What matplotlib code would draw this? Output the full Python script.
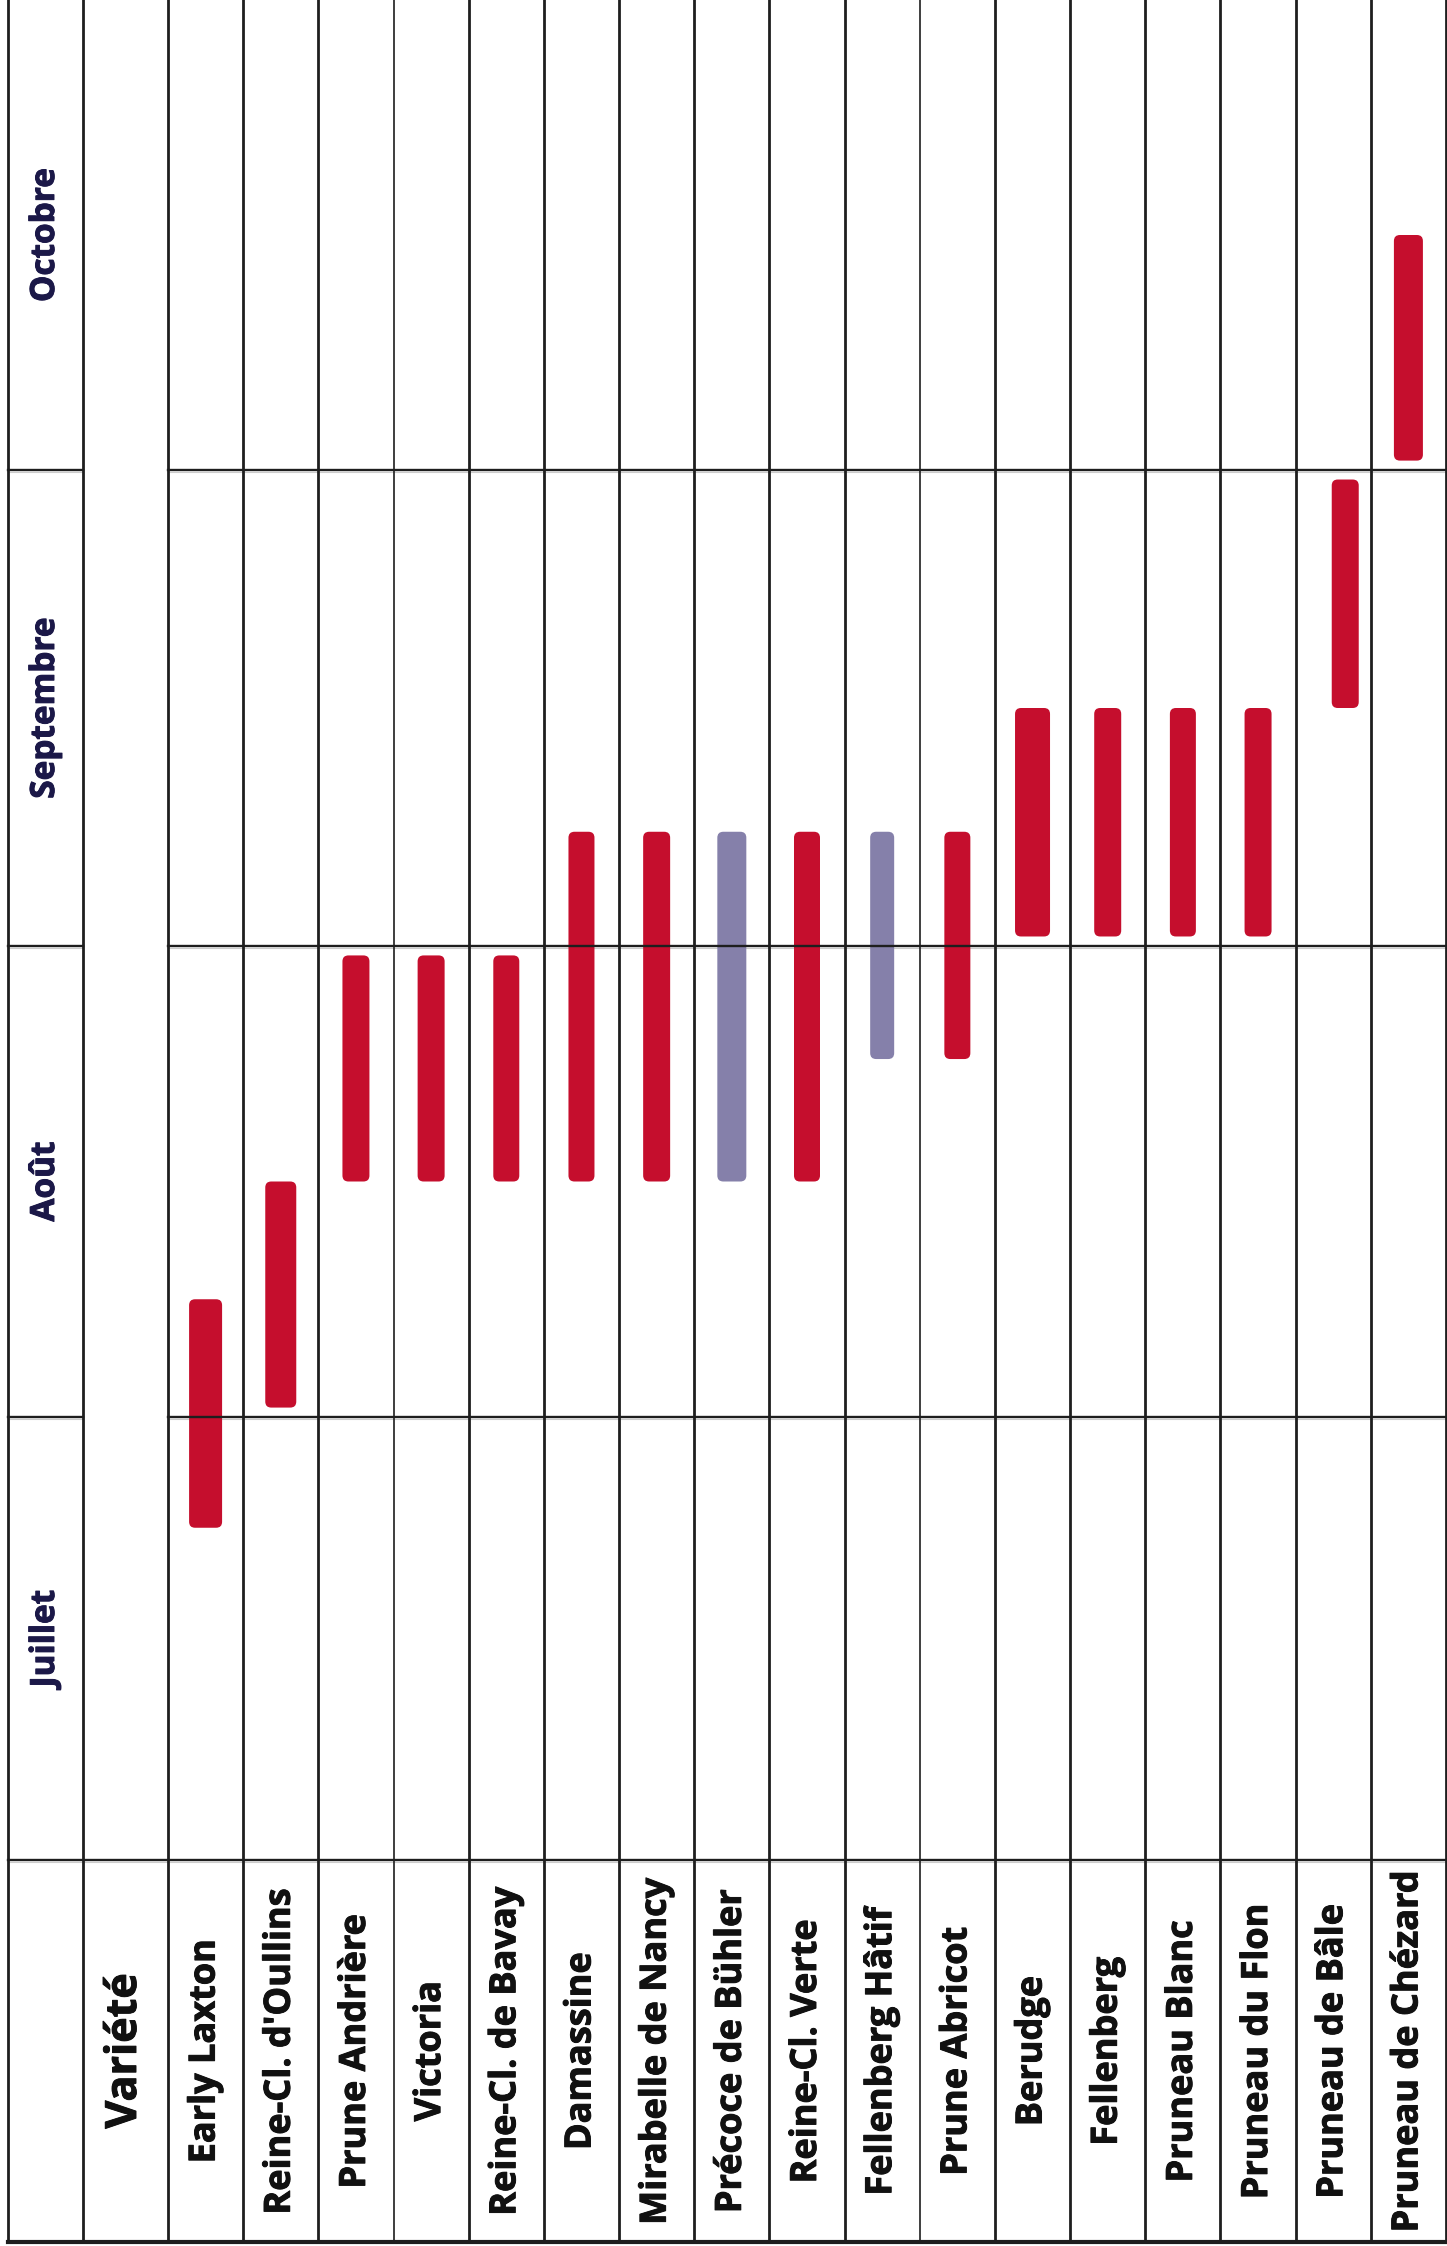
import numpy as np
import matplotlib
matplotlib.use("Agg")
import matplotlib.pyplot as plt
import matplotlib.patheffects as pe
from matplotlib.patches import FancyBboxPatch

plt.rcParams['font.family'] = ['Open Sans', 'DejaVu Sans']

mois = ['Juillet', 'Août', 'Septembre', 'Octobre']
varietes = ['Early Laxton', "Reine-Cl. d'Oullins", 'Prune Andrière', 'Victoria',
            'Reine-Cl. de Bavay', 'Damassine', 'Mirabelle de Nancy', 'Précoce de Bühler',
            'Reine-Cl. Verte', 'Fellenberg Hâtif', 'Prune Abricot', 'Berudge', 'Fellenberg',
            'Pruneau Blanc', 'Pruneau du Flon', 'Pruneau de Bâle', 'Pruneau de Chézard']
# debut / fin de recolte, en mois depuis le 1er juillet (0 = juillet, 1 = aout ...)
debut = [0.75, 1.02, 1.5, 1.5, 1.5, 1.5, 1.5, 1.5, 1.5, 1.76, 1.76,
         2.02, 2.02, 2.02, 2.02, 2.5, 3.02]
fin = [1.25, 1.5, 1.98, 1.98, 1.98, 2.24, 2.24, 2.24, 2.24, 2.24, 2.24,
       2.5, 2.5, 2.5, 2.5, 2.98, 3.5]
groupe = ['r', 'r', 'r', 'r', 'r', 'r', 'r', 'v', 'r', 'v', 'r',
          'r', 'r', 'r', 'r', 'r', 'r']

# mise en page (pixels)
W, H = 1447, 2246
x_g, x_m, x_v, x_d = 8, 83, 168, 1446
y_lab, y_bas = 1860, 2242
bords_mois = [1860, 1417, 946, 470, 0]   # bas de juillet -> haut d'octobre
largeur = [33, 31, 27, 27, 26, 26, 27, 29, 26, 24, 26, 35, 27, 26, 27, 27, 29]
decalage = [0] * 15 + [12, 0]
traits_fins = [3, 10]
couleurs = {'r': '#C50E2D', 'v': '#8580AA'}
trait = '#1e1e1e'

fig = plt.figure(figsize=(W / 100, H / 100), dpi=100)
ax = fig.add_axes([0, 0, 1, 1])
ax.set_xlim(0, W)
ax.set_ylim(H, 0)
ax.axis('off')

n = len(varietes)
cols = np.linspace(x_v, x_d, n + 1)
centres = (cols[:-1] + cols[1:]) / 2

def y_de(t):
    return np.interp(t, np.arange(len(bords_mois)), bords_mois)

# barres
for i in range(n):
    y0, y1 = y_de(fin[i]), y_de(debut[i])
    w = largeur[i]
    xc = centres[i] + decalage[i]
    ax.add_patch(FancyBboxPatch((xc - w / 2, y0), w, y1 - y0,
                                boxstyle='round,pad=0,rounding_size=6',
                                fc=couleurs[groupe[i]], ec='none', zorder=2))

# grille
for k, x in enumerate(cols):
    lw = 1.2 if k in traits_fins else 2.0
    ax.plot([x, x], [0, y_bas], color=trait, lw=lw, zorder=3)
for x in [x_g, x_m]:
    ax.plot([x, x], [0, y_bas], color=trait, lw=2.0, zorder=3)
for y in bords_mois[1:-1]:
    for a, b in [(x_g, x_m), (x_v, x_d)]:
        ax.plot([a, b], [y + 2, y + 2], color='#cccccc', lw=0.8, zorder=1)
        ax.plot([a, b], [y, y], color=trait, lw=1.7, zorder=3)
ax.plot([x_g, x_d], [y_lab + 2, y_lab + 2], color='#cccccc', lw=0.8, zorder=1)
ax.plot([x_g, x_d], [y_lab, y_lab], color=trait, lw=1.7, zorder=3)
ax.plot([x_g, x_d], [y_bas, y_bas], color=trait, lw=3.0, zorder=3)

# textes (un leger contour pour epaissir le gras)
def epais(c):
    return [pe.withStroke(linewidth=0.7, foreground=c)]

for j, m in enumerate(mois):
    yc = (bords_mois[j] + bords_mois[j + 1]) / 2
    ax.text((x_g + x_m) / 2, yc, m, rotation=90, ha='center', va='center',
            fontsize=24, fontweight='bold', color='#1b1848',
            path_effects=epais('#1b1848'))
yc_lab = (y_lab + y_bas) / 2
ax.text((x_m + x_v) / 2 - 1, yc_lab, 'Variété', rotation=90, ha='center',
        va='center', fontsize=31, fontweight='bold', color='#111111',
        path_effects=epais('#111111'))
for i, v in enumerate(varietes):
    ax.text(centres[i], yc_lab, v, rotation=90, ha='center', va='center',
            fontsize=26, fontweight='bold', color='#111111',
            path_effects=epais('#111111'))

fig.savefig('out.png', dpi=100, facecolor='white')
